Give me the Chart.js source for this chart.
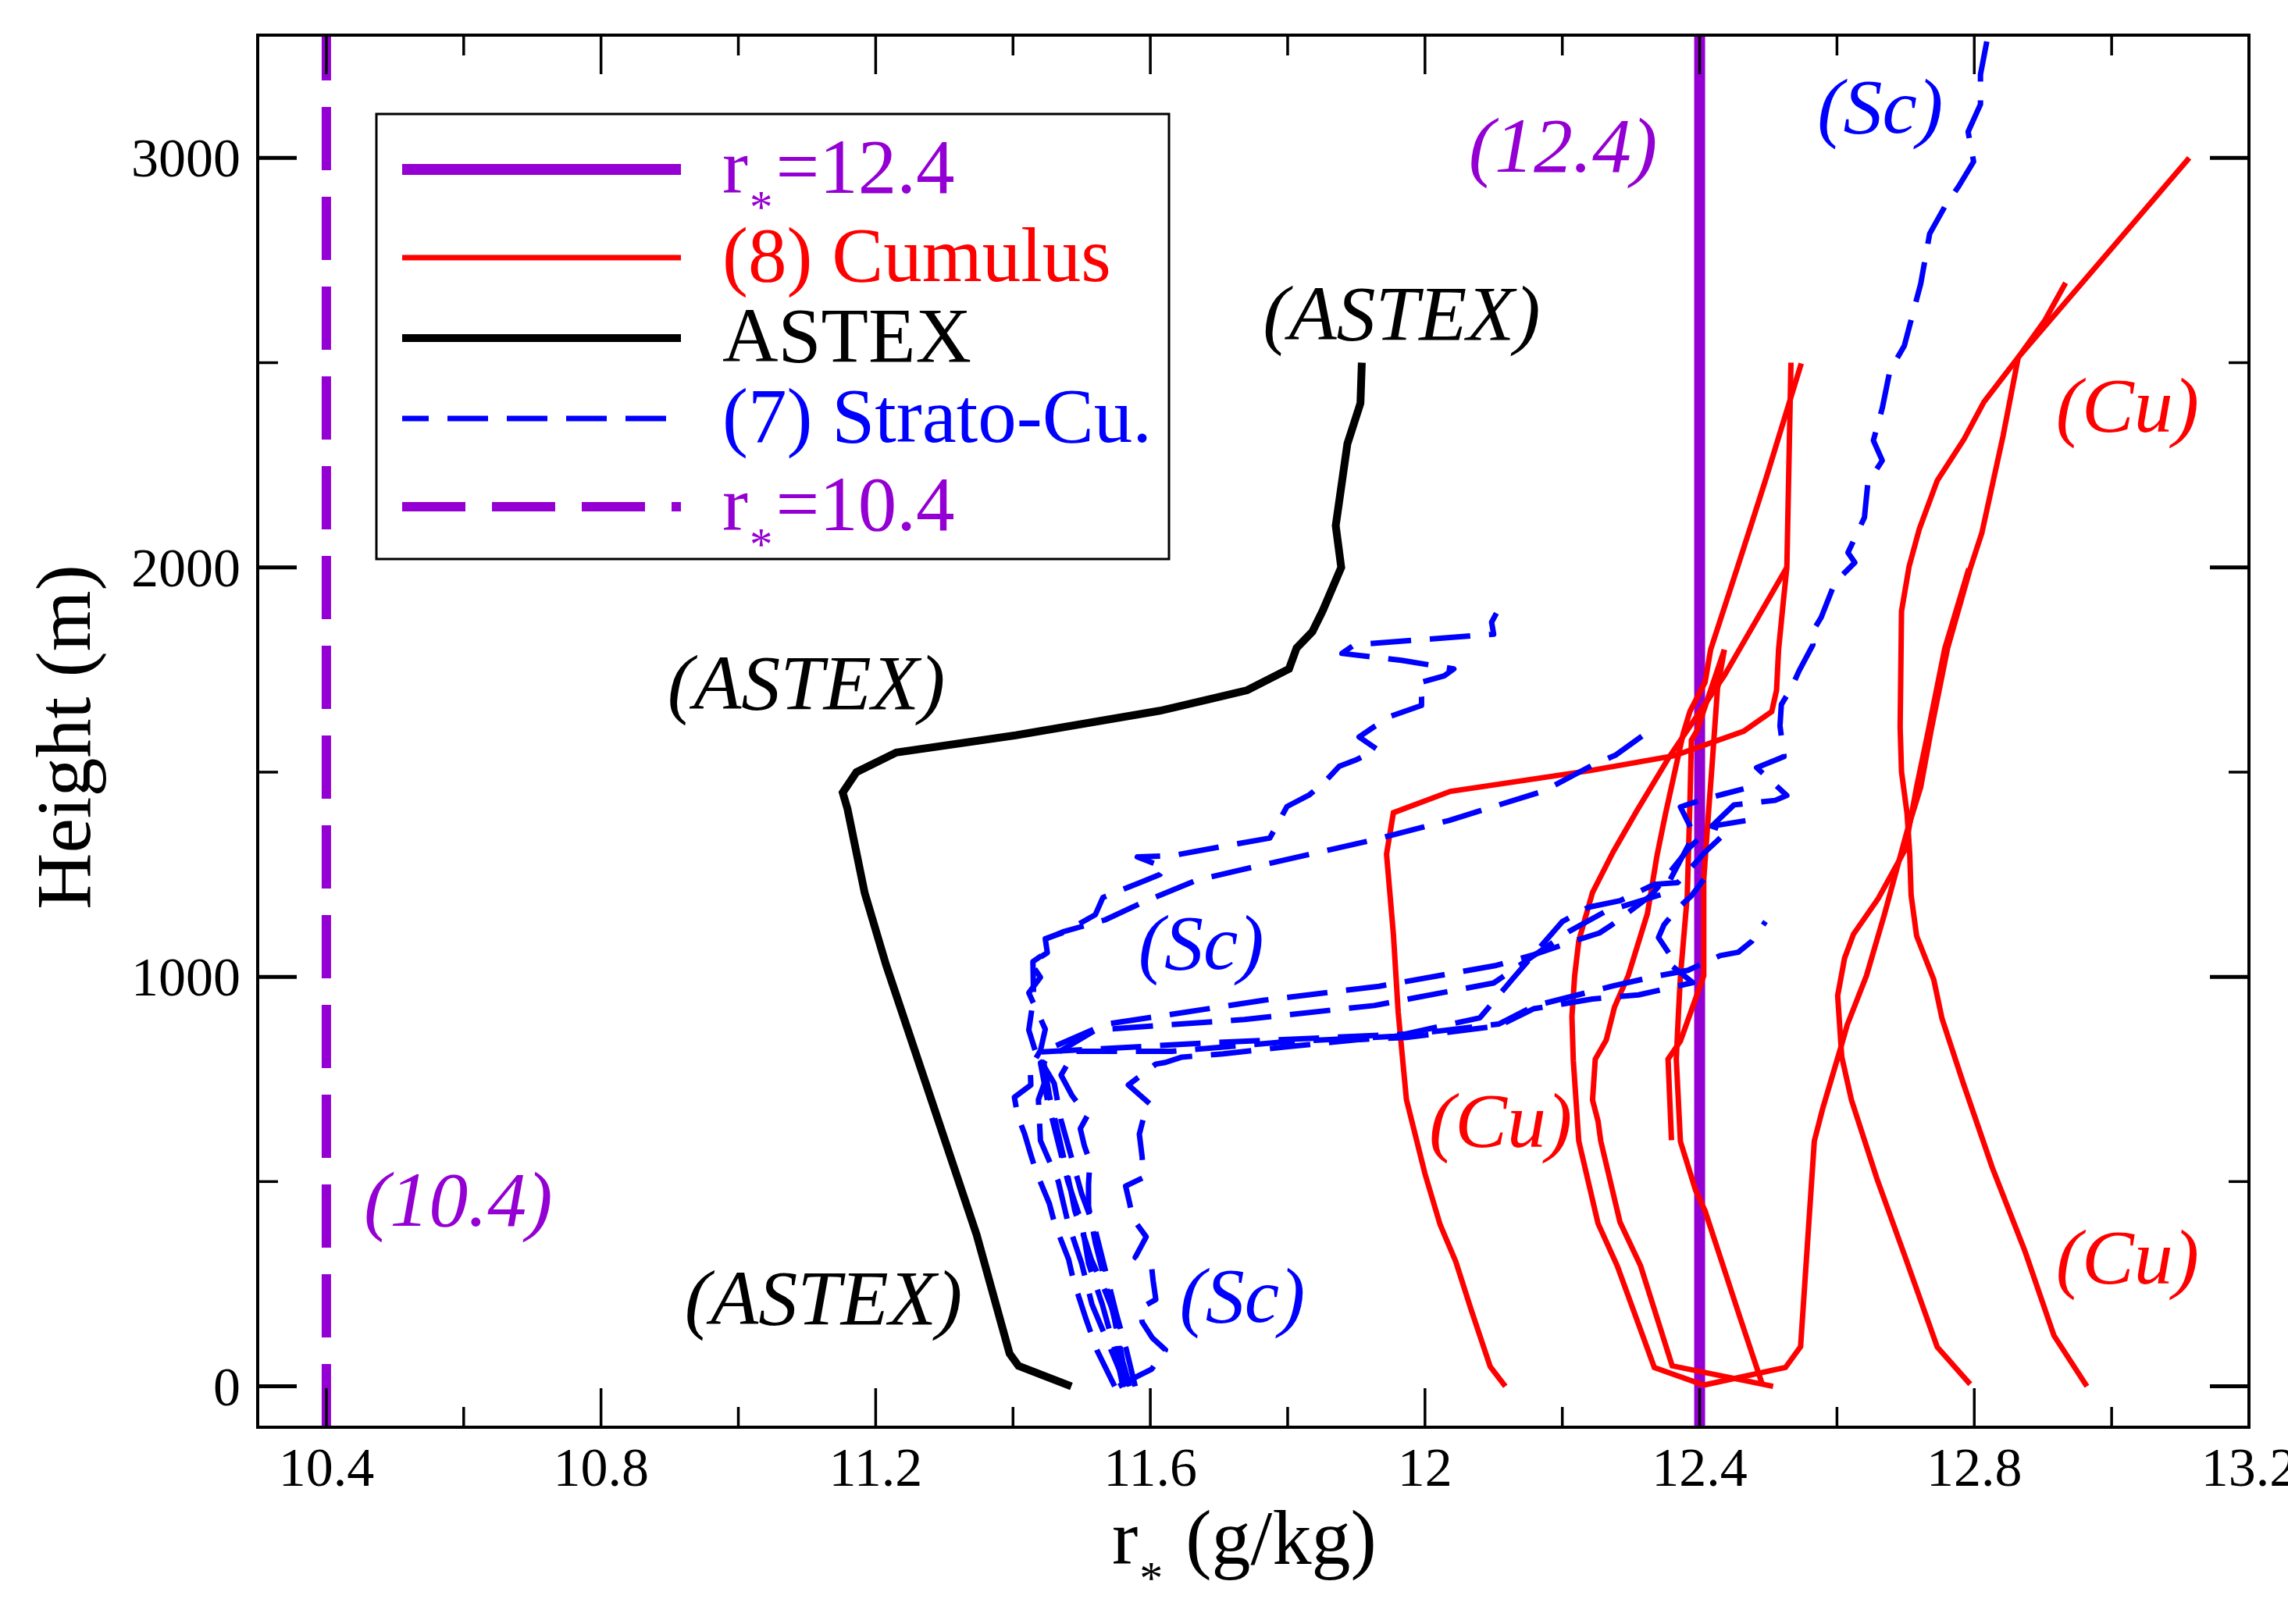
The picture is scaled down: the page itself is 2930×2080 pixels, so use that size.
<!DOCTYPE html>
<html lang="en">
<head>
<meta charset="UTF-8">
<title>r* profiles</title>
<script src="https://cdn.jsdelivr.net/npm/chart.js"></script>
<style>
  html, body { margin: 0; padding: 0; background: #fff; }
  #wrap { width: 2930px; height: 2080px; }
</style>
</head>
<body>
<div id="wrap"><canvas id="chart" width="2930" height="2080"></canvas></div>
<script>
// axes
const xMin = 10.3, xMax = 13.2;
const zMin = -100, zMax = 3300;
const xTicks = [10.4, 10.8, 11.2, 11.6, 12.0, 12.4, 12.8, 13.2];
const xTickLabels = ['10.4', '10.8', '11.2', '11.6', '12', '12.4', '12.8', '13.2'];
const xMinor = [10.6, 11.0, 11.4, 11.8, 12.2, 12.6, 13.0];
const yTicks = [0, 1000, 2000, 3000];
const yTickLabels = ['0', '1000', '2000', '3000'];
const yMinor = [500, 1500, 2500];

// reference values of r* (g/kg)
const refHigh = 12.4;
const refLow = 10.4;

// ASTEX
const astexR = [11.485, 11.408, 11.395, 11.347, 11.215, 11.184, 11.159, 11.152, 11.172, 11.230, 11.404, 11.614, 11.688, 11.741, 11.802, 11.813, 11.836, 11.851, 11.878, 11.870, 11.887, 11.906, 11.908];
const astexZ = [0, 50, 80, 370, 1030, 1205, 1410, 1450, 1500, 1548, 1590, 1650, 1679, 1700, 1752, 1803, 1843, 1894, 2000, 2102, 2302, 2401, 2500];

// (8) Cumulus
const cu1R = [12.117, 12.095, 12.067, 12.045, 12.022, 12.000, 11.973, 11.961, 11.954, 11.944, 11.954, 12.037, 12.241, 12.363, 12.464, 12.505, 12.512, 12.515, 12.521, 12.527, 12.533];
const cu1Z = [0, 48, 188, 304, 395, 519, 700, 913, 1104, 1300, 1401, 1453, 1504, 1540, 1600, 1648, 1700, 1800, 1902, 2000, 2500];
const cu2R = [12.406, 12.334, 12.280, 12.252, 12.224, 12.216, 12.214, 12.218, 12.224, 12.244, 12.274, 12.308, 12.356, 12.436, 12.527];
const cu2Z = [3, 46, 294, 398, 599, 796, 903, 1003, 1088, 1206, 1305, 1404, 1538, 1736, 2000];
const cu3R = [12.507, 12.360, 12.314, 12.284, 12.256, 12.252, 12.244, 12.248, 12.264, 12.276, 12.296, 12.324, 12.338, 12.350, 12.376, 12.386, 12.408, 12.416, 12.456, 12.476, 12.497, 12.548];
const cu3Z = [0, 50, 294, 401, 599, 648, 699, 799, 846, 926, 1003, 1155, 1297, 1396, 1594, 1649, 1720, 1799, 2005, 2109, 2219, 2498];
const cu4R = [12.359, 12.354, 12.372, 12.406, 12.406, 12.413, 12.418, 12.426, 12.436];
const cu4Z = [601, 799, 843, 1003, 1238, 1403, 1514, 1704, 1799];
const cu5R = [12.491, 12.459, 12.408, 12.394, 12.372, 12.366, 12.369, 12.372, 12.382, 12.386, 12.388, 12.396, 12.436];
const cu5Z = [6, 167, 428, 479, 598, 799, 907, 1001, 1198, 1436, 1578, 1601, 1799];
const cu6R = [12.406, 12.525, 12.547, 12.567, 12.579, 12.607, 12.615, 12.643, 12.669, 12.702, 12.722, 12.737, 12.761, 12.794, 12.811, 12.842, 12.864, 13.113];
const cu6Z = [3, 46, 97, 599, 677, 836, 883, 1003, 1152, 1355, 1464, 1601, 1802, 1997, 2084, 2322, 2513, 3000];
const cu7R = [12.794, 12.746, 12.698, 12.658, 12.621, 12.607, 12.601, 12.611, 12.624, 12.660, 12.699, 12.716, 12.733, 12.757, 12.792];
const cu7Z = [5, 96, 322, 508, 700, 805, 954, 1045, 1104, 1191, 1310, 1464, 1601, 1802, 1997];
const cu8R = [12.964, 12.916, 12.874, 12.826, 12.784, 12.753, 12.741, 12.716, 12.708, 12.706, 12.702, 12.694, 12.692, 12.694, 12.705, 12.720, 12.746, 12.785, 12.814, 12.864, 12.903, 12.933];
const cu8Z = [0, 124, 329, 535, 740, 898, 993, 1100, 1199, 1300, 1400, 1501, 1610, 1893, 2002, 2094, 2212, 2313, 2404, 2513, 2604, 2695];

// (7) Strato-cumulus
const sc1R = [11.560, 11.554, 11.546, 11.530, 11.514, 11.506, 11.490, 11.484, 11.474, 11.466, 11.453, 11.445, 11.460, 11.534, 11.766, 11.933, 12.104, 12.158, 12.218, 12.254, 12.272, 12.330, 12.386, 12.450, 12.510, 12.527, 12.483, 12.523, 12.517, 12.519, 12.533, 12.545, 12.565, 12.563, 12.577, 12.597, 12.626, 12.616, 12.640, 12.645, 12.666, 12.653, 12.666, 12.677, 12.698, 12.722, 12.735, 12.759, 12.777, 12.799, 12.791, 12.809, 12.809, 12.820];
const sc1Z = [0, 106, 183, 250, 310, 353, 429, 480, 557, 616, 710, 790, 830, 884, 943, 977, 1028, 1054, 1088, 1107, 1127, 1200, 1317, 1420, 1431, 1443, 1511, 1538, 1613, 1665, 1704, 1748, 1811, 1839, 1878, 1963, 2012, 2036, 2122, 2207, 2261, 2310, 2389, 2480, 2541, 2693, 2815, 2887, 2930, 2991, 3064, 3131, 3204, 3300];
const sc2R = [11.548, 11.522, 11.506, 11.488, 11.481, 11.461, 11.453, 11.434, 11.426, 11.417, 11.407, 11.402, 11.426, 11.425, 11.440, 11.447, 11.423, 11.440, 11.426, 11.450, 11.447, 11.476, 11.520, 11.531, 11.589, 11.614, 11.621, 11.581, 11.632, 11.716, 11.774, 11.788, 11.799, 11.832, 11.854, 11.875, 11.901, 11.930, 11.904, 11.926, 11.951, 11.995, 11.995, 11.991, 12.028, 12.042, 11.966, 11.879, 11.897, 12.100, 12.097, 12.104];
const sc2Z = [0, 89, 166, 259, 310, 395, 446, 523, 565, 616, 660, 706, 736, 778, 820, 872, 961, 999, 1033, 1059, 1093, 1110, 1152, 1194, 1233, 1250, 1267, 1293, 1296, 1322, 1339, 1382, 1416, 1445, 1476, 1514, 1531, 1556, 1586, 1611, 1637, 1663, 1684, 1718, 1735, 1752, 1773, 1790, 1811, 1837, 1866, 1888];
const sc3R = [11.565, 11.540, 11.515, 11.500, 11.480, 11.466, 11.440, 11.437, 11.450, 11.433, 11.423, 11.430, 11.429, 11.447, 11.447, 11.473, 11.534, 11.589, 11.669, 11.781, 11.926, 12.035, 12.173, 12.245, 12.278, 12.325];
const sc3Z = [0, 100, 200, 300, 400, 500, 600, 700, 760, 816, 870, 950, 1037, 1058, 1092, 1110, 1139, 1182, 1237, 1280, 1335, 1382, 1454, 1518, 1542, 1599];
const sc4R = [11.570, 11.560, 11.550, 11.535, 11.520, 11.510, 11.510, 11.512, 11.504, 11.498, 11.508, 11.486, 11.470, 11.490, 11.631, 11.794, 11.956, 12.108, 12.159, 12.272, 12.332, 12.383, 12.430, 12.456, 12.476, 12.496];
const sc4Z = [0, 60, 150, 250, 350, 440, 494, 549, 587, 629, 660, 710, 760, 818, 818, 841, 855, 885, 929, 977, 1000, 1016, 1052, 1060, 1087, 1135];
const sc5R = [11.554, 11.582, 11.602, 11.622, 11.603, 11.588, 11.586, 11.608, 11.604, 11.602, 11.578, 11.594, 11.574, 11.570, 11.564, 11.590, 11.588, 11.584, 11.590, 11.600, 11.568, 11.608, 11.622, 11.646, 11.706, 11.798, 11.906, 11.973, 12.107, 12.158, 12.244, 12.311, 12.390, 12.350, 12.356, 12.340, 12.348, 12.368, 12.388, 12.406];
const sc5Z = [0, 25, 42, 89, 118, 157, 191, 212, 259, 289, 315, 365, 411, 446, 489, 510, 561, 616, 655, 689, 736, 787, 791, 804, 812, 829, 847, 852, 880, 922, 946, 956, 986, 1040, 1056, 1096, 1127, 1167, 1198, 1238];
const sc6R = [11.560, 11.550, 11.530, 11.510, 11.500, 11.480, 11.465, 11.450, 11.440, 11.520, 11.737, 11.926, 12.100, 12.210, 12.262, 12.346, 12.392, 12.372, 12.408, 12.436, 12.464];
const sc6Z = [0, 80, 200, 300, 400, 500, 600, 700, 790, 870, 896, 930, 985, 1111, 1159, 1202, 1348, 1415, 1435, 1447, 1459];
const sc7R = [11.578, 11.565, 11.550, 11.535, 11.520, 11.500, 11.485, 11.470, 11.460, 11.433, 11.700, 11.970, 12.080, 12.130, 12.200, 12.238, 12.284, 12.334, 12.368, 12.408, 12.426, 12.440, 12.418, 12.476];
const sc7Z = [0, 90, 180, 280, 380, 470, 560, 650, 740, 816, 840, 860, 900, 1000, 1135, 1170, 1186, 1226, 1230, 1305, 1333, 1356, 1368, 1384];

// text labels in the plot: [text, r*, z, kind]
const notes = [
  ['(12.4)', 12.201, 3012, 'ref'],
  ['(10.4)', 10.592, 437, 'ref'],
  ['(ASTEX)', 11.966, 2602, 'astex'],
  ['(ASTEX)', 11.099, 1701, 'astex'],
  ['(ASTEX)', 11.124, 198, 'astex'],
  ['(Sc)', 12.663, 3108, 'sc'],
  ['(Sc)', 11.674, 1066, 'sc'],
  ['(Sc)', 11.734, 204, 'sc'],
  ['(Cu)', 13.023, 2377, 'cu'],
  ['(Cu)', 12.110, 631, 'cu'],
  ['(Cu)', 13.023, 297, 'cu']
];

const PURPLE = '#9400d3', RED = '#ff0000', BLUE = '#0000ff', BLACK = '#000000';
const kindColor = { ref: PURPLE, astex: BLACK, sc: BLUE, cu: RED };
const SERIF = '"Liberation Serif", "Times New Roman", serif';

function series(label, r, z, color, width, dash, order, join) {
  return {
    label: label,
    data: r.map((v, i) => ({ x: v, y: z[i] })),
    showLine: true,
    borderColor: color,
    backgroundColor: color,
    borderWidth: width,
    borderDash: dash,
    borderCapStyle: 'butt',
    borderJoinStyle: join || 'miter',
    pointRadius: 0,
    pointHoverRadius: 0,
    fill: false,
    tension: 0,
    order: order
  };
}

const scDash = [52, 24];
const datasets = [
  series('r*=12.4', [refHigh, refHigh], [zMin, zMax], PURPLE, 14, [], 5),
  series('(8) Cumulus', cu1R, cu1Z, RED, 7, [], 3),
  series('', cu2R, cu2Z, RED, 7, [], 3),
  series('', cu3R, cu3Z, RED, 7, [], 3),
  series('', cu4R, cu4Z, RED, 7, [], 3),
  series('', cu5R, cu5Z, RED, 7, [], 3),
  series('', cu6R, cu6Z, RED, 7, [], 3),
  series('', cu7R, cu7Z, RED, 7, [], 3),
  series('', cu8R, cu8Z, RED, 7, [], 3),
  series('ASTEX', astexR, astexZ, BLACK, 10, [], 2),
  series('(7) Strato-Cu.', sc1R, sc1Z, BLUE, 7, scDash, 1, 'round'),
  series('', sc2R, sc2Z, BLUE, 7, scDash, 1, 'round'),
  series('', sc3R, sc3Z, BLUE, 7, scDash, 1, 'round'),
  series('', sc4R, sc4Z, BLUE, 7, scDash, 1, 'round'),
  series('', sc5R, sc5Z, BLUE, 7, scDash, 1, 'round'),
  series('', sc6R, sc6Z, BLUE, 7, scDash, 1, 'round'),
  series('', sc7R, sc7Z, BLUE, 7, scDash, 1, 'round'),
  series('r*=10.4', [refLow, refLow], [zMin, zMax], PURPLE, 12, [81, 34], 5)
];

// text with a subscript asterisk: "r*=12.4" -> r, sub *, =12.4
function drawSubStar(ctx, text, x, base, size, color) {
  const parts = text.split('*');
  ctx.fillStyle = color;
  ctx.textAlign = 'left';
  ctx.textBaseline = 'alphabetic';
  ctx.font = size + 'px ' + SERIF;
  if (parts.length < 2) { ctx.fillText(text, x, base); return; }
  ctx.fillText(parts[0], x, base);
  let cx = x + ctx.measureText(parts[0]).width + 2;
  ctx.font = Math.round(size * 0.6) + 'px ' + SERIF;
  const m = ctx.measureText('*');
  const target = base + size * 0.1;
  ctx.fillText('*', cx, target + (m.actualBoundingBoxAscent - m.actualBoundingBoxDescent) / 2);
  cx += m.width + 4;
  ctx.font = size + 'px ' + SERIF;
  ctx.fillText(parts[1], cx, base);
}

const decor = {
  id: 'decor',
  afterDraw(chart) {
    const { ctx, chartArea: a, scales: { x, y } } = chart;
    ctx.save();
    ctx.strokeStyle = BLACK;
    ctx.lineCap = 'butt';
    ctx.setLineDash([]);
    const seg = (x1, y1, x2, y2, w) => {
      ctx.lineWidth = w;
      ctx.beginPath(); ctx.moveTo(x1, y1); ctx.lineTo(x2, y2); ctx.stroke();
    };
    // inward ticks on all four sides
    xTicks.forEach(v => { const p = x.getPixelForValue(v); seg(p, a.bottom, p, a.bottom - 50, 3.5); seg(p, a.top, p, a.top + 50, 3.5); });
    xMinor.forEach(v => { const p = x.getPixelForValue(v); seg(p, a.bottom, p, a.bottom - 26, 3.5); seg(p, a.top, p, a.top + 26, 3.5); });
    yTicks.forEach(v => { const p = y.getPixelForValue(v); seg(a.left, p, a.left + 50, p, 5); seg(a.right, p, a.right - 50, p, 5); });
    yMinor.forEach(v => { const p = y.getPixelForValue(v); seg(a.left, p, a.left + 26, p, 3.5); seg(a.right, p, a.right - 26, p, 3.5); });
    ctx.lineWidth = 4;
    ctx.strokeRect(a.left, a.top, a.right - a.left, a.bottom - a.top);

    // tick labels
    ctx.fillStyle = BLACK;
    ctx.font = '70px ' + SERIF;
    ctx.textBaseline = 'alphabetic';
    ctx.textAlign = 'center';
    xTicks.forEach((v, i) => ctx.fillText(xTickLabels[i], x.getPixelForValue(v), a.bottom + 75));
    ctx.textAlign = 'right';
    yTicks.forEach((v, i) => ctx.fillText(yTickLabels[i], a.left - 22, y.getPixelForValue(v) + 24));

    // axis titles
    ctx.save();
    ctx.translate(115, 944);
    ctx.rotate(-Math.PI / 2);
    ctx.font = '100px ' + SERIF;
    ctx.textAlign = 'center';
    ctx.fillText('Height (m)', 0, 0);
    ctx.restore();
    drawSubStar(ctx, 'r* (g/kg)', 1424, 2003, 100, BLACK);

    // legend
    const lx = 482, ly = 146, lw = 1015, lh = 570;
    ctx.fillStyle = '#fff';
    ctx.fillRect(lx, ly, lw, lh);
    ctx.strokeStyle = BLACK;
    ctx.lineWidth = 3;
    ctx.strokeRect(lx, ly, lw, lh);
    const rows = [217, 330, 433, 536, 649];
    chart.data.datasets.filter(d => d.label).forEach((d, i) => {
      const yy = rows[i];
      ctx.strokeStyle = d.borderColor;
      ctx.lineWidth = d.borderWidth;
      ctx.setLineDash(d.borderDash);
      ctx.lineDashOffset = d.borderDash === scDash ? 18 : 0;
      ctx.beginPath(); ctx.moveTo(515, yy); ctx.lineTo(872, yy); ctx.stroke();
      ctx.setLineDash([]);
      ctx.lineDashOffset = 0;
      drawSubStar(ctx, d.label, 925, yy + 30, 99, d.borderColor);
    });

    // notes inside the plot
    ctx.font = 'italic 100px ' + SERIF;
    ctx.textAlign = 'center';
    ctx.textBaseline = 'alphabetic';
    notes.forEach(([t, r, z, kind]) => {
      const m = ctx.measureText(t);
      const px = x.getPixelForValue(r), py = y.getPixelForValue(z);
      ctx.fillStyle = kindColor[kind];
      ctx.fillText(t, px, py + (m.actualBoundingBoxAscent - m.actualBoundingBoxDescent) / 2);
    });
    ctx.restore();
  }
};

new Chart(document.getElementById('chart'), {
  type: 'scatter',
  data: { datasets: datasets },
  options: {
    responsive: false,
    devicePixelRatio: 1,
    animation: false,
    events: [],
    layout: { padding: { left: 330, right: 50, top: 45, bottom: 252 } },
    plugins: { legend: { display: false }, tooltip: { enabled: false } },
    scales: {
      x: { type: 'linear', min: xMin, max: xMax, display: false },
      y: { type: 'linear', min: zMin, max: zMax, display: false }
    }
  },
  plugins: [decor]
});
</script>
</body>
</html>
